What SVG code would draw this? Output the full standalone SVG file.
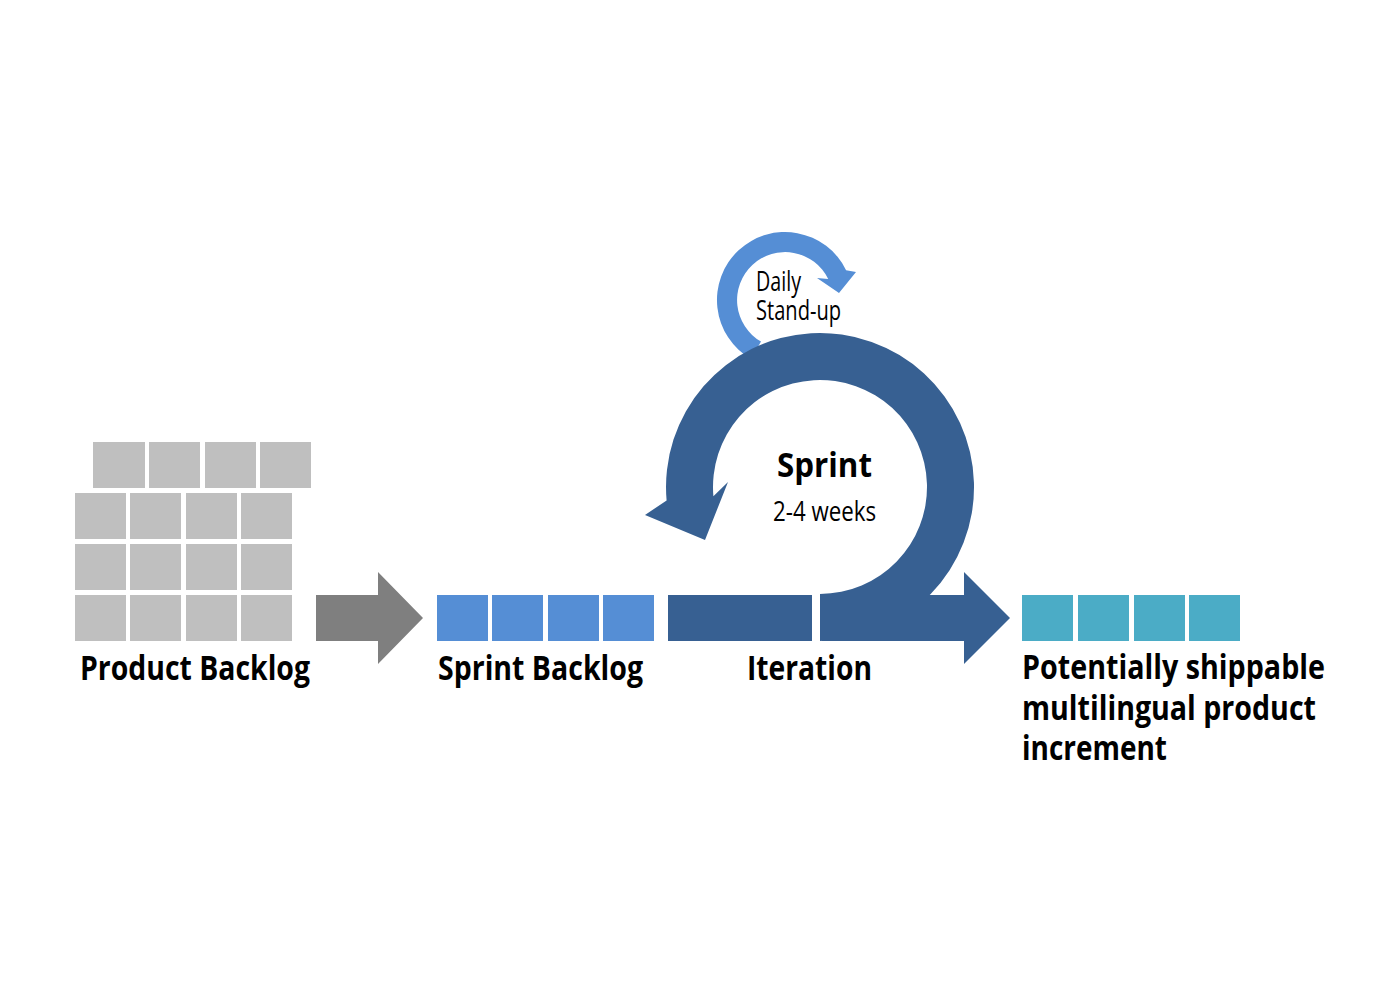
<svg xmlns="http://www.w3.org/2000/svg" width="1400" height="1000" viewBox="0 0 1400 1000">
<style>
.g{fill:#bfbfbf}.b{fill:#558ed5}.d{fill:#376092}.t{fill:#4bacc6}
.lb{font-family:"Open Sans","Liberation Sans",sans-serif;font-weight:bold;font-size:34px;fill:#000}
.lr{font-family:"Open Sans","Liberation Sans",sans-serif;font-size:27px;fill:#000}
</style>
<rect width="1400" height="1000" fill="#fff"/>
<g id="product-backlog">
<rect class="g" x="93" y="442" width="52" height="46"/><rect class="g" x="149" y="442" width="51" height="46"/><rect class="g" x="205" y="442" width="51" height="46"/><rect class="g" x="260" y="442" width="51" height="46"/>
<rect class="g" x="75" y="493" width="51" height="46"/><rect class="g" x="130" y="493" width="51" height="46"/><rect class="g" x="186" y="493" width="51" height="46"/><rect class="g" x="241" y="493" width="51" height="46"/>
<rect class="g" x="75" y="544" width="51" height="46"/><rect class="g" x="130" y="544" width="51" height="46"/><rect class="g" x="186" y="544" width="51" height="46"/><rect class="g" x="241" y="544" width="51" height="46"/>
<rect class="g" x="75" y="595" width="51" height="46"/><rect class="g" x="130" y="595" width="51" height="46"/><rect class="g" x="186" y="595" width="51" height="46"/><rect class="g" x="241" y="595" width="51" height="46"/>
<text class="lb" x="80" y="680" textLength="230" lengthAdjust="spacingAndGlyphs">Product Backlog</text>
</g>
<g id="connectors">
<polygon fill="#7f7f7f" points="316,595 378,595 378,572 423,618 378,664 378,641 316,641"/>
<path id="standup-loop" class="b" d="M761,341.6 L751,358.9 A68 68 0 1 1 846.1,270.2 L856,272 L839,293 L817,278 L828.2,279 A48 48 0 1 0 761,341.6 Z"/>
<path id="sprint-loop" class="d" d="M820,641 A154 154 0 1 0 666.6,500.4 L645,515 L705,540 L728,482 L713.4,496.3 A107 107 0 1 1 820,594 Z"/>
<polygon class="d" points="822,595 964,595 964,572 1010,618 964,664 964,641 822,641"/>
</g>
<g id="sprint-backlog">
<rect class="b" x="437" y="595" width="51" height="46"/><rect class="b" x="492" y="595" width="51" height="46"/><rect class="b" x="548" y="595" width="51" height="46"/><rect class="b" x="603" y="595" width="51" height="46"/>
<text class="lb" x="438" y="680" textLength="205" lengthAdjust="spacingAndGlyphs">Sprint Backlog</text>
</g>
<g id="iteration">
<rect class="d" x="668" y="595" width="144" height="46"/>
<text class="lb" x="747" y="680" textLength="125" lengthAdjust="spacingAndGlyphs">Iteration</text>
</g>
<g id="sprint-label">
<text class="lb" x="777" y="477" font-size="42" textLength="95" lengthAdjust="spacingAndGlyphs">Sprint</text>
<text class="lr" x="773" y="521" textLength="103" lengthAdjust="spacingAndGlyphs">2-4 weeks</text>
</g>
<g id="daily-standup">
<text class="lr" x="756" y="291" font-size="25" textLength="45" lengthAdjust="spacingAndGlyphs">Daily</text>
<text class="lr" x="756" y="320" font-size="25" textLength="85" lengthAdjust="spacingAndGlyphs">Stand-up</text>
</g>
<g id="increment">
<rect class="t" x="1022" y="595" width="51" height="46"/><rect class="t" x="1078" y="595" width="51" height="46"/><rect class="t" x="1134" y="595" width="51" height="46"/><rect class="t" x="1189" y="595" width="51" height="46"/>
<text class="lb" x="1022" y="679" textLength="303" lengthAdjust="spacingAndGlyphs">Potentially shippable</text>
<text class="lb" x="1022" y="720" textLength="294" lengthAdjust="spacingAndGlyphs">multilingual product</text>
<text class="lb" x="1022" y="760" textLength="145" lengthAdjust="spacingAndGlyphs">increment</text>
</g>
</svg>
